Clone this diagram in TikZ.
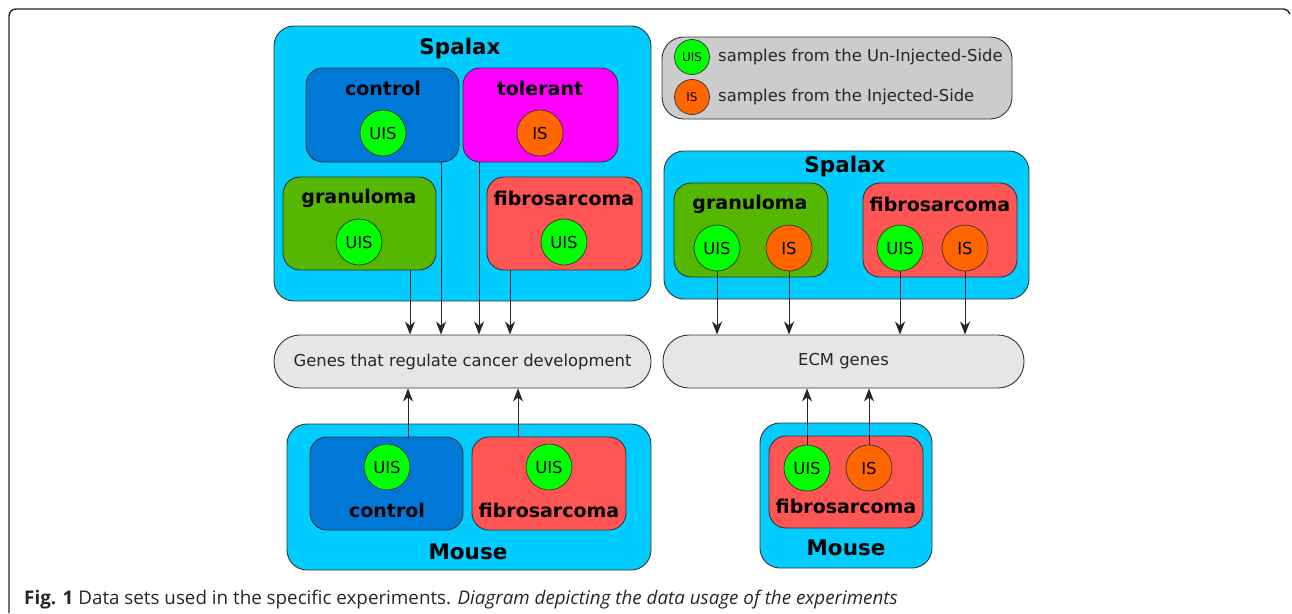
\documentclass[tikz,border=0pt]{standalone}
\usepackage{fontspec}
\setmainfont{DejaVu Sans}
\newfontfamily\capfont{Open Sans}
\usetikzlibrary{arrows.meta,calc}
\definecolor{cyanbg}{HTML}{00CCFF}
\definecolor{ctrlblue}{HTML}{0078D7}
\definecolor{tolmag}{HTML}{FF00FF}
\definecolor{grangreen}{HTML}{55B700}
\definecolor{fibred}{HTML}{FF5555}
\definecolor{uisgreen}{HTML}{00FF00}
\definecolor{isorange}{HTML}{FF6600}
\definecolor{genegray}{HTML}{E6E6E6}
\definecolor{leggray}{HTML}{CCCCCC}
\definecolor{edge}{HTML}{333333}
\tikzset{
  box/.style={draw=edge, line width=0.9pt, rounded corners=20pt, inner sep=0pt},
  sub/.style={draw=edge, line width=0.9pt, rounded corners=17pt, inner sep=0pt},
  pill/.style={draw=edge, line width=0.9pt, fill=genegray, rounded corners=26pt, inner sep=0pt, minimum height=53pt, font=\fontsize{16.4}{19}\selectfont, text=black!85},
  uis/.style={circle, draw=edge, line width=0.7pt, fill=uisgreen, minimum size=46pt, inner sep=0pt, font=\fontsize{16.5}{18}\selectfont},
  isc/.style={circle, draw=edge, line width=0.7pt, fill=isorange, minimum size=46pt, inner sep=0pt, font=\fontsize{16.5}{18}\selectfont},
  luis/.style={circle, draw=edge, line width=0.7pt, fill=uisgreen, minimum size=35pt, inner sep=0pt, font=\fontsize{12}{14}\selectfont},
  lis/.style={circle, draw=edge, line width=0.7pt, fill=isorange, minimum size=35pt, inner sep=0pt, font=\fontsize{12}{14}\selectfont},
  title/.style={font=\fontsize{21.5}{24}\selectfont\bfseries, inner sep=0pt},
  subtitle/.style={font=\fontsize{19}{22}\selectfont\bfseries, inner sep=0pt},
  legtext/.style={font=\fontsize{16.4}{19}\selectfont, anchor=west, inner sep=0pt, text=black!85},
  arr/.style={draw=black!85, line width=1pt, -{Stealth[length=13pt,width=10pt,inset=4pt]}},
}
\begin{document}
\begin{tikzpicture}[x=1pt,y=-1pt]
\useasboundingbox (0,0) rectangle (1292,613);
% outer frame
\draw[line width=1.4pt, black!85, rounded corners=7pt] (9,613) -- (9,9) -- (1284,9);
\draw[line width=1.4pt, black!85] (1284,9) to[out=0,in=120] (1290,14);

% ---- left Spalax ----
\node[box, fill=cyanbg, minimum width=377pt, minimum height=275pt] (spL) at (462.5,163.5) {};
\node[title] (spLt) at (460,49) {Spalax};
\node[sub, fill=ctrlblue, minimum width=153pt, minimum height=94pt] (ctrl) at (382.5,115) {};
\node[subtitle] (ctrlt) at (383,88) {control};
\node[uis] (ctrlc) at (383,133) {UIS};
\node[sub, fill=tolmag, minimum width=155pt, minimum height=94pt] (tol) at (540.5,115) {};
\node[subtitle] (tolt) at (540,88) {tolerant};
\node[isc] (tolc) at (540,133) {IS};
\node[sub, fill=grangreen, minimum width=153pt, minimum height=93pt] (gran) at (359.5,223.5) {};
\node[subtitle] (grant) at (359,198) {granuloma};
\node[uis] (granc) at (359,242) {UIS};
\node[sub, fill=fibred, minimum width=155pt, minimum height=93pt] (fibL) at (564.5,223.5) {};
\node[subtitle] (fibLt) at (564,198) {fibrosarcoma};
\node[uis] (fibLc) at (564,242) {UIS};

% genes box
\node[pill, minimum width=377pt] (genes) at (462.5,361.5) {Genes that regulate cancer development};

% arrows into genes
\draw[arr] ([xshift=50.5pt]gran.south) coordinate (a1) -- (a1 |- genes.north);
\draw[arr] ([xshift=58.5pt]ctrl.south) coordinate (a2) -- (a2 |- genes.north);
\draw[arr] ([xshift=-61.5pt]tol.south) coordinate (a3) -- (a3 |- genes.north);
\draw[arr] ([xshift=-54.5pt]fibL.south) coordinate (a4) -- (a4 |- genes.north);

% ---- left Mouse ----
\node[box, fill=cyanbg, minimum width=364pt, minimum height=146pt] (msL) at (469,497) {};
\node[title] (msLt) at (468,552) {Mouse};
\node[sub, fill=ctrlblue, minimum width=153pt, minimum height=93pt] (mctrl) at (386.5,483.5) {};
\node[uis] (mctrlc) at (387,467) {UIS};
\node[subtitle] (mctrlt) at (387,510) {control};
\node[sub, fill=fibred, minimum width=154pt, minimum height=93pt] (mfib) at (549,483.5) {};
\node[uis] (mfibc) at (549,467) {UIS};
\node[subtitle] (mfibt) at (549,510) {fibrosarcoma};
\draw[arr] ([xshift=21.5pt]mctrl.north) coordinate (b1) -- (b1 |- genes.south);
\draw[arr] ([xshift=-31pt]mfib.north) coordinate (b2) -- (b2 |- genes.south);

% ---- legend ----
\node[box, fill=leggray, rounded corners=22pt, minimum width=350pt, minimum height=82pt] (leg) at (837,78) {};
\node[luis] (leguis) at (692,57) {UIS};
\node[legtext] (legt1) at (718,57) {samples from the Un-Injected-Side};
\node[lis] (legis) at (692,97) {IS};
\node[legtext] (legt2) at (718,97) {samples from the Injected-Side};

% ---- right Spalax ----
\node[box, fill=cyanbg, minimum width=365pt, minimum height=148pt] (spR) at (846.5,225) {};
\node[title] (spRt) at (845,167) {Spalax};
\node[sub, fill=grangreen, minimum width=154pt, minimum height=94pt] (granR) at (751,230) {};
\node[subtitle] (granRt) at (750,204) {granuloma};
\node[uis] (granRu) at (717,248) {UIS};
\node[isc] (granRi) at (789,248) {IS};
\node[sub, fill=fibred, minimum width=154pt, minimum height=94pt] (fibR) at (940,230) {};
\node[subtitle] (fibRt) at (940,204) {fibrosarcoma};
\node[uis] (fibRu) at (900,248) {UIS};
\node[isc] (fibRi) at (965,248) {IS};

\node[pill, minimum width=361pt] (ecm) at (843.5,361.5) {ECM genes};
\draw[arr] (granRu.south) -- (granRu.south |- ecm.north);
\draw[arr] (granRi.south) -- (granRi.south |- ecm.north);
\draw[arr] (fibRu.south) -- (fibRu.south |- ecm.north);
\draw[arr] (fibRi.south) -- (fibRi.south |- ecm.north);

% ---- right Mouse ----
\node[box, fill=cyanbg, minimum width=172pt, minimum height=145pt] (msR) at (846,495.5) {};
\node[title] (msRt) at (846,548) {Mouse};
\node[sub, fill=fibred, minimum width=154pt, minimum height=92pt] (mfibR) at (846,482) {};
\node[uis] (mfibRu) at (807,468) {UIS};
\node[isc] (mfibRi) at (869,468) {IS};
\node[subtitle] (mfibRt) at (846,506) {fibrosarcoma};
\draw[arr] (mfibRu.north) -- (mfibRu.north |- ecm.south);
\draw[arr] (mfibRi.north) -- (mfibRi.north |- ecm.south);

% caption
\node[anchor=base west, inner sep=0pt, font=\capfont\fontsize{18.8}{21}\selectfont, text=black!85] (cap) at (24,604) {\textbf{Fig. 1} Data sets used in the specific experiments. \textit{Diagram depicting the data usage of the experiments}};
\end{tikzpicture}
\end{document}
